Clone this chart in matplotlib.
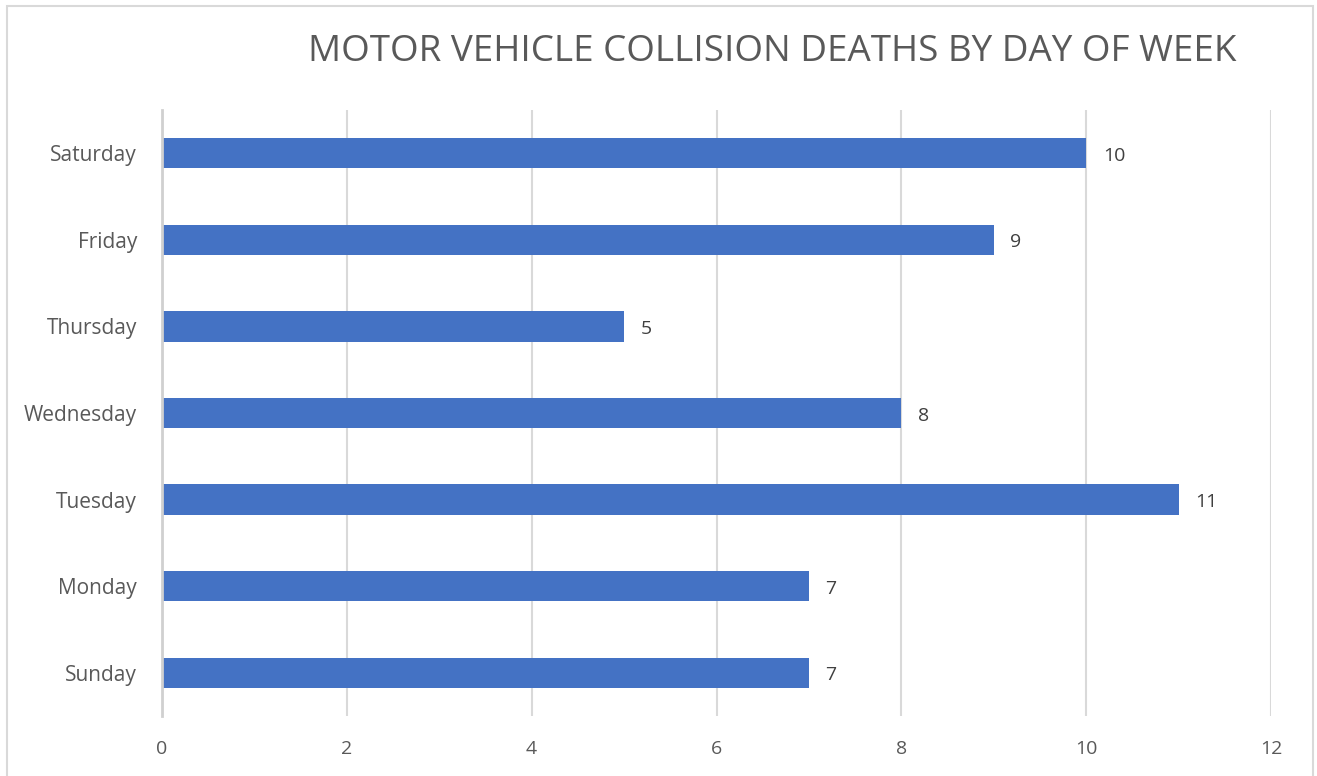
import matplotlib.pyplot as plt
from matplotlib.patches import Rectangle

# data
days = ['Sunday', 'Monday', 'Tuesday', 'Wednesday', 'Thursday', 'Friday', 'Saturday']
deaths = [7, 7, 11, 8, 5, 9, 10]
x_ticks = [0, 2, 4, 6, 8, 10, 12]

plt.rcParams['font.family'] = ['Open Sans', 'DejaVu Sans']
text_col = '#595959'

fig = plt.figure(figsize=(13.17, 7.76), dpi=100)
ax = fig.add_axes([162 / 1317, 60 / 776, 1109 / 1317, 606 / 776])

bars = ax.barh(days, deaths, height=0.35, color='#4472C4', zorder=3)
for b, v in zip(bars, deaths):
    ax.text(v + 0.18, b.get_y() + b.get_height() / 2 - 0.03, str(v), va='center', ha='left',
            fontsize=14, color='#404040')

ax.set_xlim(0, 12)
ax.set_ylim(-0.5, 6.5)
ax.set_xticks(x_ticks)
ax.grid(axis='x', color='#d9d9d9', linewidth=1.5, zorder=0)
for s in ['top', 'right', 'bottom']:
    ax.spines[s].set_visible(False)
ax.spines['left'].set_color('#d0d0d0')
ax.spines['left'].set_linewidth(2)
ax.spines['left'].set_zorder(4)
ax.tick_params(length=0, labelcolor=text_col)
ax.tick_params(axis='x', pad=17, labelsize=14)
ax.tick_params(axis='y', pad=18, labelsize=15)

fig.text(772 / 1317, 1 - 52 / 776, 'MOTOR VEHICLE COLLISION DEATHS BY DAY OF WEEK',
         ha='center', va='center', fontsize=26.5, color=text_col)

# outer chart border
fig.patches.append(Rectangle((7 / 1317, -0.01), 1306 / 1317, 1 - 6 / 776 + 0.01,
                             transform=fig.transFigure, fill=False,
                             edgecolor='#d9d9d9', linewidth=1.5))

fig.savefig('out.png', dpi=100)
